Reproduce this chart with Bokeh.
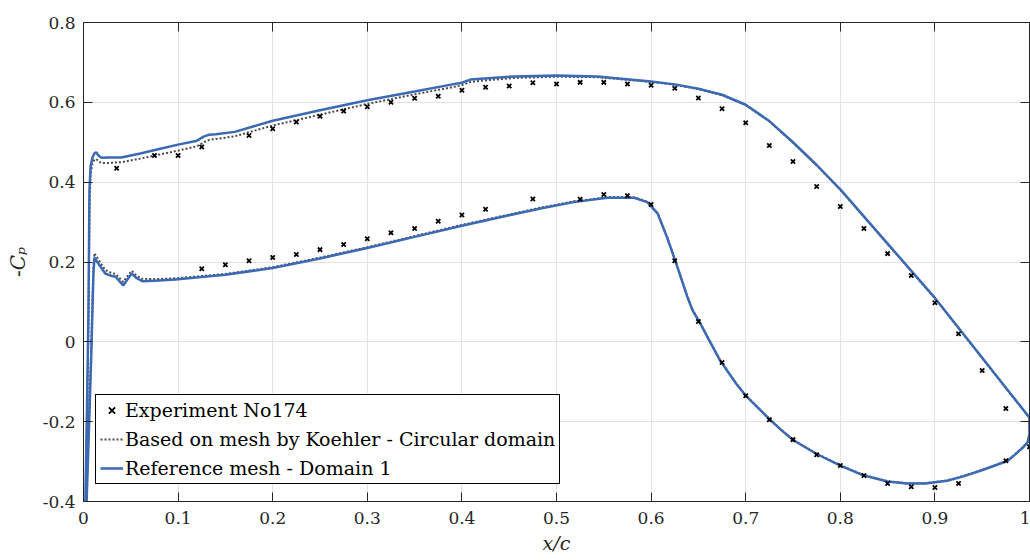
from bokeh.plotting import figure
from bokeh.models import (Range1d, LinearAxis, FixedTicker, NumeralTickFormatter,
                          Legend, LegendItem)
from bokeh.embed import file_html
from bokeh.resources import INLINE

# ---------------- data ----------------
x_ticks = [0, 0.1, 0.2, 0.3, 0.4, 0.5, 0.6, 0.7, 0.8, 0.9, 1.0]
y_ticks = [-0.4, -0.2, 0, 0.2, 0.4, 0.6, 0.8]
x_title = "x/c"
y_title = "-C\u209a"

exp_upper_x = [0.035, 0.075, 0.1, 0.125, 0.175, 0.2, 0.225, 0.25, 0.275, 0.3,
               0.325, 0.35, 0.375, 0.4, 0.425, 0.45, 0.475, 0.5, 0.525, 0.55,
               0.575, 0.6, 0.625, 0.65, 0.675, 0.7, 0.725, 0.75, 0.775, 0.8,
               0.825, 0.85, 0.875, 0.9, 0.925, 0.95, 0.975]
exp_upper_cp = [0.435, 0.467, 0.467, 0.488, 0.517, 0.534, 0.551, 0.565, 0.578, 0.589,
                0.600, 0.610, 0.615, 0.630, 0.638, 0.641, 0.649, 0.646, 0.650, 0.650,
                0.646, 0.643, 0.635, 0.611, 0.584, 0.549, 0.492, 0.452, 0.389, 0.339,
                0.284, 0.221, 0.166, 0.098, 0.020, -0.072, -0.167]
exp_lower_x = [0.125, 0.15, 0.175, 0.2, 0.225, 0.25, 0.275, 0.3, 0.325, 0.35,
               0.375, 0.4, 0.425, 0.475, 0.525, 0.55, 0.575, 0.6, 0.625, 0.65,
               0.675, 0.7, 0.725, 0.75, 0.775, 0.8, 0.825, 0.85, 0.875, 0.9,
               0.925, 0.975, 1.0]
exp_lower_cp = [0.183, 0.193, 0.203, 0.211, 0.219, 0.231, 0.244, 0.258, 0.273, 0.284,
                0.302, 0.318, 0.332, 0.358, 0.357, 0.369, 0.366, 0.344, 0.203, 0.051,
                -0.052, -0.135, -0.195, -0.245, -0.283, -0.310, -0.335, -0.355, -0.363, -0.365,
                -0.355, -0.298, -0.263]

# Reference mesh - Domain 1 (suction side, leading edge -> trailing edge)
ref_upper_x = [0.0, 0.002, 0.004, 0.0053, 0.0063, 0.0075, 0.0095, 0.0115, 0.0134, 0.016,
               0.019, 0.025, 0.04, 0.06, 0.08, 0.10, 0.12, 0.127, 0.133, 0.14,
               0.16, 0.20, 0.25, 0.30, 0.35, 0.39, 0.40, 0.409, 0.42, 0.455,
               0.50, 0.543, 0.60, 0.625, 0.65, 0.675, 0.70, 0.725, 0.75, 0.775,
               0.80, 0.85, 0.90, 0.95, 0.975, 1.0]
ref_upper_cp = [-1.0, -0.40, -0.12, 0.086, 0.38, 0.44, 0.462, 0.472, 0.475, 0.466,
                0.461, 0.462, 0.462, 0.472, 0.483, 0.494, 0.504, 0.514, 0.519, 0.520,
                0.526, 0.554, 0.580, 0.605, 0.627, 0.645, 0.649, 0.657, 0.659, 0.665,
                0.667, 0.665, 0.652, 0.645, 0.634, 0.619, 0.594, 0.553, 0.500, 0.443,
                0.382, 0.246, 0.110, -0.040, -0.115, -0.190]
# Reference mesh - Domain 1 (pressure side, leading edge -> trailing edge)
ref_lower_x = [0.0, 0.003, 0.006, 0.008, 0.0095, 0.0105, 0.0116, 0.016, 0.023, 0.030,
               0.034, 0.038, 0.042, 0.046, 0.051, 0.056, 0.062, 0.075, 0.097, 0.15,
               0.20, 0.25, 0.30, 0.35, 0.40, 0.45, 0.483, 0.518, 0.554, 0.582,
               0.596, 0.607, 0.617, 0.628, 0.638, 0.644, 0.652, 0.66, 0.673, 0.69,
               0.70, 0.72, 0.737, 0.75, 0.775, 0.80, 0.825, 0.85, 0.87, 0.89,
               0.913, 0.93, 0.948, 0.96, 0.977, 0.985, 0.993, 0.998, 1.0]
ref_lower_cp = [-1.0, -0.42, -0.2, -0.05, 0.086, 0.17, 0.211, 0.195, 0.171, 0.165,
                0.163, 0.152, 0.141, 0.155, 0.171, 0.160, 0.152, 0.153, 0.156, 0.168,
                0.185, 0.209, 0.235, 0.263, 0.291, 0.317, 0.334, 0.350, 0.361, 0.361,
                0.350, 0.321, 0.261, 0.186, 0.115, 0.078, 0.046, 0.010, -0.047, -0.105,
                -0.135, -0.182, -0.220, -0.246, -0.281, -0.310, -0.335, -0.350, -0.355, -0.355,
                -0.348, -0.337, -0.323, -0.313, -0.298, -0.282, -0.265, -0.252, -0.23]

# Based on mesh by Koehler - Circular domain (same stations)
koe_upper_cp = [-1.0, -0.42, -0.15, 0.05, 0.34, 0.42, 0.447, 0.456, 0.458, 0.452,
                0.448, 0.448, 0.450, 0.459, 0.469, 0.479, 0.490, 0.500, 0.506, 0.508,
                0.515, 0.542, 0.569, 0.596, 0.620, 0.638, 0.643, 0.651, 0.654, 0.661,
                0.664, 0.663, 0.651, 0.644, 0.633, 0.618, 0.593, 0.552, 0.499, 0.442,
                0.381, 0.245, 0.109, -0.041, -0.116, -0.190]
koe_lower_cp = [-1.0, -0.40, -0.18, -0.03, 0.10, 0.19, 0.222, 0.205, 0.180, 0.172,
                0.170, 0.160, 0.150, 0.163, 0.178, 0.166, 0.158, 0.157, 0.159, 0.170,
                0.187, 0.211, 0.237, 0.265, 0.293, 0.319, 0.336, 0.352, 0.362, 0.362,
                0.351, 0.322, 0.262, 0.187, 0.116, 0.079, 0.047, 0.011, -0.046, -0.104,
                -0.134, -0.181, -0.219, -0.245, -0.280, -0.309, -0.334, -0.349, -0.354, -0.354,
                -0.347, -0.336, -0.322, -0.312, -0.297, -0.281, -0.264, -0.251, -0.23]

legend_labels = ["Experiment No174",
                 "Based on mesh by Koehler - Circular domain",
                 "Reference mesh - Domain 1"]

# ---------------- styling ----------------
FONT = "DejaVu Serif"
AX = "#262626"
BLUE = "#3b69b3"

p = figure(width=1030, height=560, output_backend="svg", toolbar_location=None,
           x_range=Range1d(0, 1), y_range=Range1d(-0.4, 0.8),
           min_border_left=83, min_border_right=1, min_border_top=22,
           min_border_bottom=59)
p.outline_line_color = None
p.background_fill_color = "white"
p.border_fill_color = "white"

p.xgrid.ticker = FixedTicker(ticks=x_ticks)
p.ygrid.ticker = FixedTicker(ticks=y_ticks)
for g in (p.xgrid, p.ygrid):
    g.grid_line_color = "#e3e3e3"
    g.grid_line_width = 1


def style_axis(ax, ticks, show_labels, standoff):
    ax.ticker = FixedTicker(ticks=ticks, minor_ticks=[])
    ax.formatter = NumeralTickFormatter(format="0.[0]")
    ax.axis_line_color = AX
    ax.axis_line_width = 1
    ax.major_tick_line_color = AX
    ax.major_tick_in = 9
    ax.major_tick_out = 0
    ax.minor_tick_in = 0
    ax.minor_tick_out = 0
    ax.major_label_standoff = standoff
    ax.major_label_text_font = FONT
    ax.major_label_text_color = AX
    if show_labels:
        ax.major_label_text_font_size = "17px"
    else:
        ax.major_label_text_font_size = "0px"
        ax.major_label_text_alpha = 0


bottom_axis = p.below[0]
left_axis = p.left[0]
style_axis(bottom_axis, x_ticks, True, 10)
style_axis(left_axis, y_ticks, True, 8)
top_axis = LinearAxis()
right_axis = LinearAxis()
style_axis(top_axis, x_ticks, False, 0)
style_axis(right_axis, y_ticks, False, 0)
p.add_layout(top_axis, "above")
p.add_layout(right_axis, "right")

bottom_axis.axis_label = x_title
bottom_axis.axis_label_text_font = FONT
bottom_axis.axis_label_text_font_style = "italic"
bottom_axis.axis_label_text_font_size = "19px"
bottom_axis.axis_label_text_color = AX
bottom_axis.axis_label_standoff = 5

left_axis.axis_label = y_title
left_axis.axis_label_text_font = FONT
left_axis.axis_label_text_font_style = "italic"
left_axis.axis_label_text_font_size = "20px"
left_axis.axis_label_text_color = AX
left_axis.axis_label_standoff = 10

# ---------------- glyphs ----------------
koe_x = ref_upper_x + ref_lower_x[::-1]
koe_y = koe_upper_cp + koe_lower_cp[::-1]
ref_x = ref_upper_x + ref_lower_x[::-1]
ref_y = ref_upper_cp + ref_lower_cp[::-1]

r_koe = p.line(koe_x, koe_y, line_color="#4a4a4a", line_width=2, line_dash="2 2")
r_ref = p.line(ref_x, ref_y, line_color=BLUE, line_width=2.5)
r_exp = p.scatter(exp_upper_x + exp_lower_x, exp_upper_cp + exp_lower_cp,
                  marker="x", size=6, line_width=1.8, line_color="black")

legend = Legend(items=[LegendItem(label=legend_labels[0], renderers=[r_exp]),
                       LegendItem(label=legend_labels[1], renderers=[r_koe]),
                       LegendItem(label=legend_labels[2], renderers=[r_ref])],
                location=(12, 17),
                border_line_color="black", border_line_width=1, border_line_alpha=1,
                background_fill_color="white", background_fill_alpha=1,
                label_text_font=FONT, label_text_font_size="19px",
                label_text_color="black",
                glyph_width=23, glyph_height=22, label_height=22,
                label_standoff=2, padding=4, spacing=7, margin=0)
p.add_layout(legend)

open("out.html", "w").write(file_html(p, INLINE))
